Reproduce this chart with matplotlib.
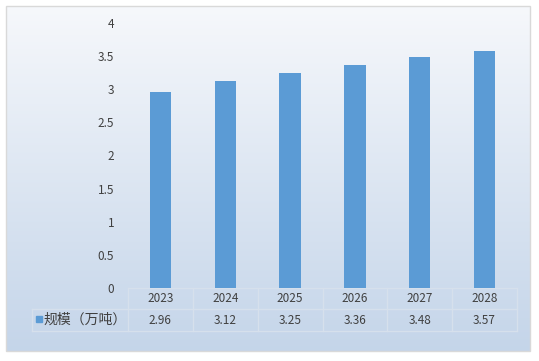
import numpy as np
import matplotlib
matplotlib.use("Agg")
import matplotlib.pyplot as plt
from matplotlib.patches import Rectangle

plt.rcParams['font.family'] = ['Noto Sans CJK SC', 'DejaVu Sans']

years = ['2023', '2024', '2025', '2026', '2027', '2028']
values = [2.96, 3.12, 3.25, 3.36, 3.48, 3.57]
series_name = '规模（万吨）'
yticks = [0, 0.5, 1, 1.5, 2, 2.5, 3, 3.5, 4]

W, H = 539, 361
fig = plt.figure(figsize=(W / 100, H / 100), dpi=100)

# background with gradient, in pixel coords
bg = fig.add_axes([0, 0, 1, 1])
bg.set_xlim(0, W)
bg.set_ylim(H, 0)
bg.axis('off')
top = np.array([0.965, 0.972, 0.985])
bot = np.array([0.77, 0.835, 0.915])
t = np.linspace(0, 1, 256)[:, None, None]
grad = top * (1 - t) + bot * t
grad = np.repeat(grad, 2, axis=1)
bg.imshow(grad, extent=[6, 530, 351, 6], aspect='auto', zorder=0)
bg.add_patch(Rectangle((6, 6), 524, 345, fill=False, ec='#d9d9d9', lw=1, zorder=1))

# main plot area
x0, x1 = 128, 517
y0, y4 = 288, 23
ax = fig.add_axes([x0 / W, 1 - y0 / H, (x1 - x0) / W, (y0 - y4) / H])
ax.patch.set_alpha(0)
x = np.arange(len(years))
ax.bar(x, values, width=0.33, color='#5b9bd5', zorder=2)
ax.set_xlim(-0.5, len(years) - 0.5)
ax.set_ylim(0, 4)
ax.set_yticks(yticks)
ax.set_yticklabels([f'{v:g}' for v in yticks], fontsize=8.5, color='#404040')
ax.tick_params(axis='y', length=0, pad=10)
ax.set_xticks([])
for s in ax.spines.values():
    s.set_visible(False)

# data table below the axes
lc = '#d6e0ec'
colw = (x1 - x0) / len(years)
r1, r2, r3 = 288, 309, 331
lx = 32
bg.plot([x0, x1], [r1, r1], color=lc, lw=1)
bg.plot([lx, x1], [r2, r2], color=lc, lw=1)
bg.plot([lx, x1], [r3, r3], color=lc, lw=1)
bg.plot([lx, lx], [r2, r3], color=lc, lw=1)
for i in range(len(years) + 1):
    xx = x0 + i * colw
    bg.plot([xx, xx], [r1, r3], color=lc, lw=1)
for i, (yr, v) in enumerate(zip(years, values)):
    cx = x0 + (i + 0.5) * colw
    bg.text(cx, (r1 + r2) / 2, yr, ha='center', va='center', fontsize=8.5, color='#404040')
    bg.text(cx, (r2 + r3) / 2, f'{v:.2f}', ha='center', va='center', fontsize=8.5, color='#404040')
bg.add_patch(Rectangle((36, 316), 6, 6, color='#5b9bd5'))
bg.text(43, (r2 + r3) / 2, series_name, ha='left', va='center', fontsize=10, color='#404040')

fig.savefig('out.png', dpi=100)
